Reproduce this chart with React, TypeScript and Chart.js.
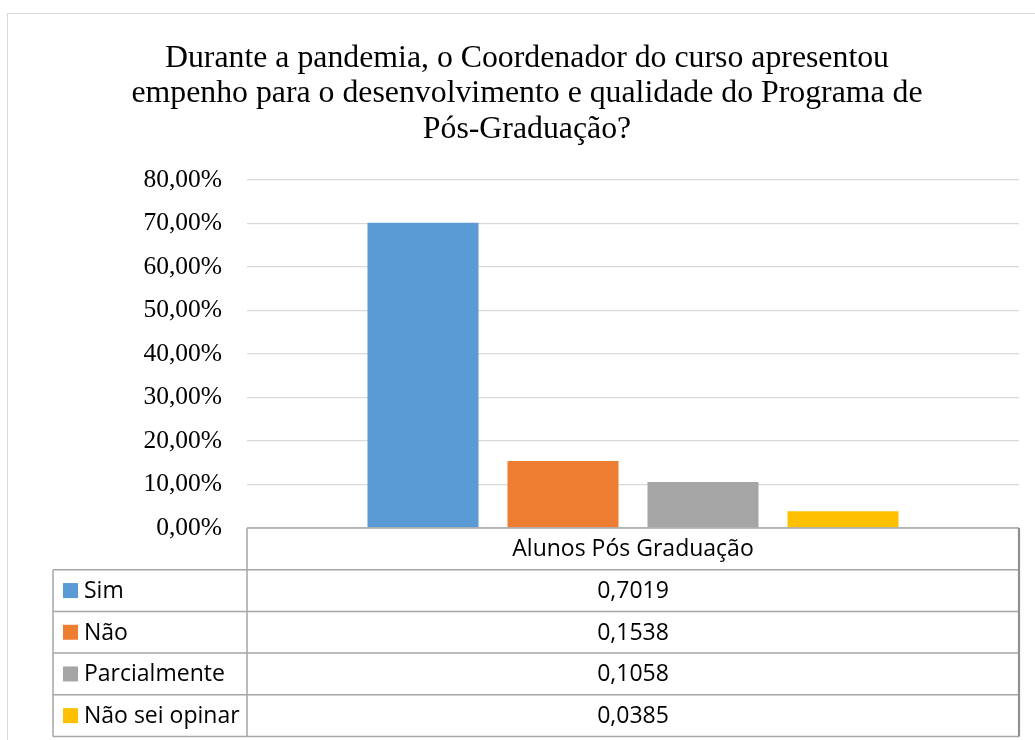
import React, { useEffect, useRef } from "react";
import { Chart, registerables } from "chart.js";

Chart.register(...registerables);

const titleLines = [
  "Durante a pandemia, o Coordenador do curso apresentou",
  "empenho para o desenvolvimento e qualidade do Programa de",
  "Pós-Graduação?",
];
const categories = ["Alunos Pós Graduação"];
const seriesNames = ["Sim", "Não", "Parcialmente", "Não sei opinar"];
const seriesValues = [0.7019, 0.1538, 0.1058, 0.0385];
const seriesColors = ["#5b9bd5", "#ed7d31", "#a5a5a5", "#ffc000"];
const yMin = 0;
const yMax = 0.8;
const yStep = 0.1;

const SERIF = "'Liberation Serif', 'Times New Roman', serif";
const SANS = "'Open Sans', 'Liberation Sans', sans-serif";

const fmtPct = (v: number) => (v * 100).toFixed(2).replace(".", ",") + "%";
const fmtVal = (v: number) => v.toFixed(4).replace(".", ",");

const dataTablePlugin = {
  id: "dataTable",
  afterDraw(chart: any) {
    const { ctx, chartArea } = chart;
    const left = chartArea.left;
    const right = chartArea.right;
    const top = chartArea.bottom;
    const rowH = 41.7;
    const legendLeft = 53;
    const nRows = seriesNames.length;
    const bottom = top + rowH * (nRows + 1);
    ctx.save();
    ctx.strokeStyle = "#a6a6a6";
    ctx.lineWidth = 1.5;
    ctx.beginPath();
    ctx.moveTo(left, top);
    ctx.lineTo(right, top);
    ctx.stroke();
    for (let i = 1; i <= nRows + 1; i++) {
      const y = top + rowH * i;
      ctx.beginPath();
      ctx.moveTo(legendLeft, y);
      ctx.lineTo(right, y);
      ctx.stroke();
    }
    ctx.beginPath();
    ctx.moveTo(left, top);
    ctx.lineTo(left, bottom);
    ctx.moveTo(legendLeft, top + rowH);
    ctx.lineTo(legendLeft, bottom);
    ctx.stroke();
    ctx.strokeStyle = "#8f8f8f";
    ctx.lineWidth = 2.2;
    ctx.beginPath();
    ctx.moveTo(right, top);
    ctx.lineTo(right, bottom);
    ctx.stroke();

    ctx.fillStyle = "#000";
    ctx.font = `23px ${SANS}`;
    ctx.textBaseline = "middle";
    ctx.textAlign = "center";
    const cx = (left + right) / 2;
    ctx.fillText(categories[0], cx, top + rowH / 2 + 1);
    for (let i = 0; i < nRows; i++) {
      const yc = top + rowH * (i + 1) + rowH / 2;
      ctx.textAlign = "center";
      ctx.fillStyle = "#000";
      ctx.fillText(fmtVal(seriesValues[i]), cx, yc + 1);
      ctx.fillStyle = seriesColors[i];
      ctx.fillRect(63, yc - 7.5, 15, 15);
      ctx.fillStyle = "#000";
      ctx.textAlign = "left";
      ctx.fillText(seriesNames[i], 84, yc + 1);
    }
    ctx.restore();
  },
};

export default function App() {
  const ref = useRef<HTMLCanvasElement | null>(null);
  useEffect(() => {
    if (!ref.current) return;
    const chart = new Chart(ref.current, {
      type: "bar",
      data: {
        labels: categories,
        datasets: seriesNames.map((name, i) => ({
          label: name,
          data: [seriesValues[i]],
          backgroundColor: seriesColors[i],
          borderWidth: 0,
          categoryPercentage: 0.7254,
          barPercentage: 0.793,
        })),
      },
      options: {
        responsive: false,
        animation: false,
        devicePixelRatio: 1,
        layout: { padding: { left: 35, right: 16, top: 0, bottom: 212 } },
        plugins: {
          legend: { display: false },
          tooltip: { enabled: false },
          title: {
            display: true,
            text: titleLines,
            color: "#000",
            font: { family: SERIF, size: 31.8, weight: "normal", lineHeight: 1.116 },
            padding: { top: 40.5, bottom: 33 },
          },
        },
        scales: {
          x: { display: false },
          y: {
            min: yMin,
            max: yMax,
            afterFit: (axis: any) => {
              axis.width = 212;
            },
            ticks: {
              stepSize: yStep,
              padding: 25,
              color: "#000",
              font: { family: SERIF, size: 25.5 },
              callback: (v: any) => fmtPct(Number(v)),
            },
            grid: { color: "#d9d9d9", lineWidth: 1.3, drawTicks: false },
            border: { display: false },
          },
        },
      },
      plugins: [dataTablePlugin],
    });
    return () => chart.destroy();
  }, []);
  return (
    <div style={{ position: "fixed", left: 0, top: 0, width: 1035, height: 740, overflow: "hidden", background: "#fff" }}>
      <div
        style={{
          position: "absolute",
          left: 7,
          top: 13,
          width: 1100,
          height: 800,
          borderTop: "1px solid #d9d9d9",
          borderLeft: "1px solid #d9d9d9",
        }}
      />
      <canvas ref={ref} width={1035} height={740} style={{ position: "absolute", left: 0, top: 0 }} />
    </div>
  );
}
